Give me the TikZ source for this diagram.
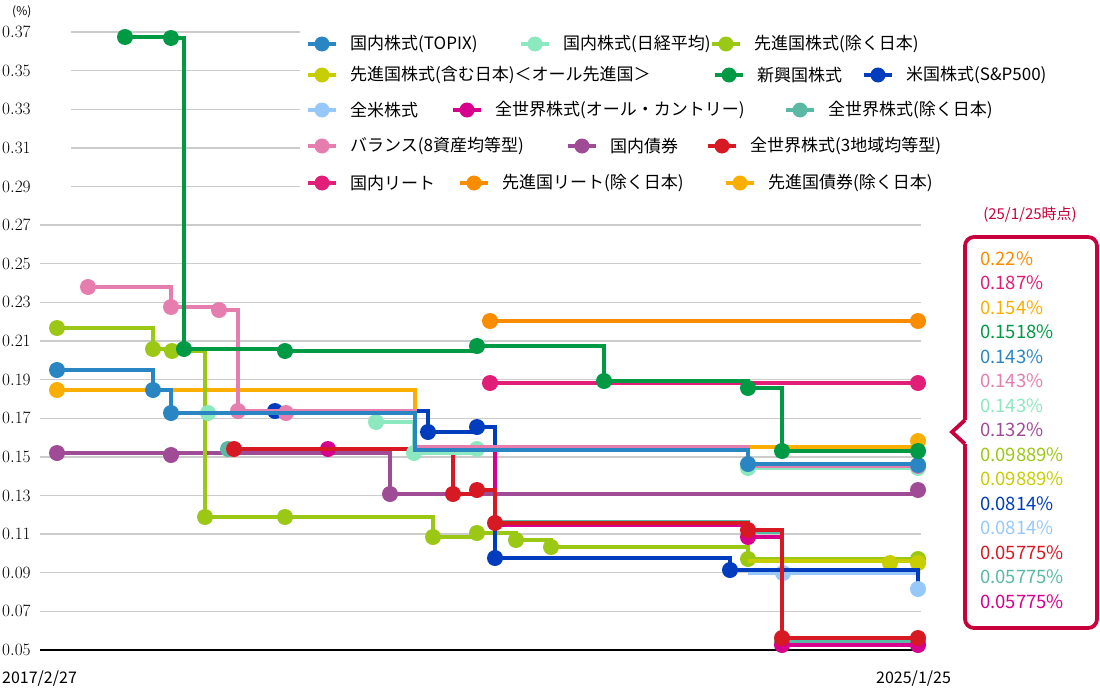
\documentclass[tikz,border=0pt]{standalone}
\usepackage{fontspec}
\setmainfont{Noto Sans CJK JP}
\usetikzlibrary{positioning}
\definecolor{topix}{RGB}{41,134,194}
\definecolor{nikkei}{RGB}{140,232,190}
\definecolor{devex}{RGB}{155,200,20}
\definecolor{devin}{RGB}{200,205,0}
\definecolor{emerg}{RGB}{0,153,68}
\definecolor{sp}{RGB}{0,60,190}
\definecolor{usall}{RGB}{150,200,250}
\definecolor{acwi}{RGB}{215,0,140}
\definecolor{wldex}{RGB}{90,185,165}
\definecolor{bal}{RGB}{230,125,175}
\definecolor{jbond}{RGB}{160,75,150}
\definecolor{three}{RGB}{215,25,35}
\definecolor{jreit}{RGB}{225,30,120}
\definecolor{dreit}{RGB}{250,140,0}
\definecolor{dbond}{RGB}{250,175,0}
\definecolor{callred}{RGB}{200,0,60}
\tikzstyle{grid} = [draw=black!20, line width=1.4]
\tikzstyle{tick} = [anchor=west, font=\fontsize{16}{16}\selectfont, inner sep=0]
\tikzstyle{ser} = [line width=3.4]
\tikzstyle{legtext} = [anchor=west, font=\fontsize{17}{17}\selectfont, inner sep=0]
\tikzstyle{val} = [anchor=west, font=\fontsize{18.5}{18.5}\selectfont, inner sep=0]
\newcommand\putmarks[2]{\foreach \px/\py in {#2} \fill[#1] (\px,\py) circle (8);}
\newcommand\legitem[4]{% colour, x, y, text
  \draw[ser,#1] (#2-14,#3) -- (#2+14,#3);
  \fill[#1] (#2,#3) circle (7.5);
  \node[legtext] at (#2+28,#3) {#4};}
\begin{document}
\begin{tikzpicture}[x=1pt,y=-1pt]
  \useasboundingbox (0,0) rectangle (1100,688);
  % grid and axis
  \foreach \k [evaluate=\k as \yy using 32+\k*38.625,
               evaluate=\k as \lab using 0.37-0.02*\k] in {0,...,16}{
    \node[tick] at (2,\yy) {\pgfmathprintnumber[fixed,precision=2,zerofill]{\lab}};
    \ifnum\k<5 \draw[grid] (71,\yy) -- (300,\yy);
    \else\ifnum\k<16 \draw[grid] (40,\yy) -- (921,\yy);
    \else \draw[black, line width=1.4] (40,\yy) -- (921,\yy);\fi\fi
  }
  \node[tick, font=\fontsize{12}{12}\selectfont] at (12,12) {(\%)};
  \node[tick] (xstart) at (2,679) {2017/2/27};
  \node[tick] (xend) at (876,679) {2025/1/25};
  % series
  \draw[ser,dbond] (57,390) -| (415,447) -| (918,443);
  \putmarks{dbond}{57/390, 918/441}
  \draw[ser,jbond] (57,453) -| (390,494) -| (918,490);
  \putmarks{jbond}{57/453, 171/455, 390/494, 918/490}
  \draw[ser,devex] (57,328) -| (153,349) -| (172,351) -| (205,517) -| (285,517) -| (433,537) -| (477,533) -| (516,540) -| (551,547) -| (748,559) -| (918,559);
  \putmarks{devex}{57/328, 153/349, 172/351, 205/517, 285/517, 433/537, 477/533, 516/540, 551/547, 748/559, 918/559}
  \draw[ser,devin] (748,561) -| (918,563);
  \putmarks{devin}{890/563, 918/563}
  \draw[ser,usall] (748,573) -| (918,589);
  \putmarks{usall}{783/573}
  \draw[ser,sp] (275,411) -| (428,432) -| (477,427) -| (495,558) -| (730,570) -| (918,585);
  \putmarks{sp}{275/411, 428/432, 477/427, 495/558, 730/570}
  \fill[usall] (918,589) circle (8);
  \draw[ser,wldex] (228,449) -| (495,522) -| (748,532) -| (782,642) -| (918,642);
  \putmarks{wldex}{228/449, 782/642, 918/642}
  \draw[ser,acwi] (328,449) -| (495,525) -| (748,537) -| (782,645) -| (918,645);
  \putmarks{acwi}{328/449, 748/537, 782/645, 918/645}
  \draw[ser,three] (234,449) -| (453,494) -| (477,490) -| (495,523) -| (748,530) -| (782,638) -| (918,638);
  \putmarks{three}{234/449, 453/494, 477/490, 495/523, 748/530, 782/638, 918/638}
  \draw[ser,nikkei] (208,413) -| (376,422) -| (414,453) -| (477,449) -| (748,468) -| (918,468);
  \putmarks{nikkei}{208/413, 376/422, 414/453, 477/449, 748/468, 918/468}
  \draw[ser,bal] (88,287) -| (171,307) -| (219,310) -| (238,411) -| (415,447) -| (748,466) -| (918,466);
  \putmarks{bal}{88/287, 171/307, 219/310, 238/411, 286/413, 918/466}
  \draw[ser,topix] (57,370) -| (153,390) -| (171,413) -| (415,450) -| (748,464) -| (918,465);
  \putmarks{topix}{57/370, 153/390, 171/413, 748/464, 918/465}
  \draw[ser,jreit] (490,383) -- (918,383);
  \putmarks{jreit}{490/383, 918/383}
  \draw[ser,dreit] (490,321) -- (918,321);
  \putmarks{dreit}{490/321, 918/321}
  \draw[ser,emerg] (125,37) -| (171,38) -| (184,349) -| (285,351) -| (477,346) -| (604,381) -| (748,388) -| (782,451) -| (918,451);
  \putmarks{emerg}{125/37, 171/38, 184/349, 285/351, 477/346, 604/381, 748/388, 782/451, 918/451}
  % legend
  \legitem{topix}{322}{44}{国内株式(TOPIX)}
  \legitem{nikkei}{535}{44}{国内株式(日経平均)}
  \legitem{devex}{726}{44}{先進国株式(除く日本)}
  \legitem{devin}{322}{75}{先進国株式(含む日本)＜オール先進国＞}
  \legitem{emerg}{729}{75}{新興国株式}
  \legitem{sp}{878}{75}{米国株式(S\&P500)}
  \legitem{usall}{322}{110}{全米株式}
  \legitem{acwi}{467}{110}{全世界株式(オール・カントリー)}
  \legitem{wldex}{800}{110}{全世界株式(除く日本)}
  \legitem{bal}{322}{146}{バランス(8資産均等型)}
  \legitem{jbond}{582}{146}{国内債券}
  \legitem{three}{722}{146}{全世界株式(3地域均等型)}
  \legitem{jreit}{322}{183}{国内リート}
  \legitem{dreit}{474}{183}{先進国リート(除く日本)}
  \legitem{dbond}{740}{183}{先進国債券(除く日本)}
  % callout
  \node[callred, font=\fontsize{15}{15}\selectfont] (asof) at (1030,215) {(25/1/25時点)};
  \draw[callred, line width=3.8, rounded corners=9] (965,420) -- (965,237) -- (1097,237) -- (1097,628) -- (965,628) -- (965,444);
  \draw[callred, line width=3.8, line join=miter] (965,420) -- (952,432) -- (965,444);
  \foreach \c/\v [count=\i] in {dreit/0.22\%, jreit/0.187\%, dbond/0.154\%, emerg/0.1518\%, topix/0.143\%, bal/0.143\%, nikkei/0.143\%, jbond/0.132\%, devex/0.09889\%, devin/0.09889\%, sp/0.0814\%, usall/0.0814\%, three/0.05775\%, wldex/0.05775\%, acwi/0.05775\%}
    \node[val, \c] (v\i) at (980,234+\i*24.5) {\v};
\end{tikzpicture}
\end{document}
